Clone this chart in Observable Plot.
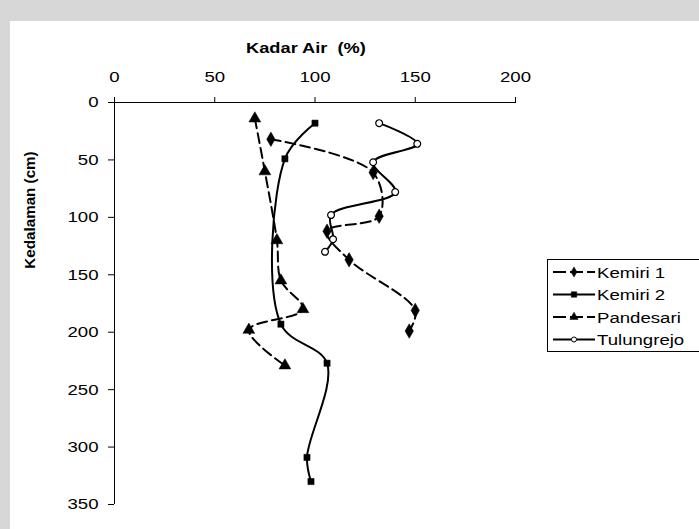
<!DOCTYPE html>
<html>
<head>
<meta charset="utf-8">
<script src="https://cdn.jsdelivr.net/npm/d3@7"></script>
<script src="https://cdn.jsdelivr.net/npm/@observablehq/plot@0.6"></script>
<style>
  html, body { margin: 0; padding: 0; background: #d7d7d7; width: 699px; height: 529px; overflow: hidden; }
  #panel { position: absolute; left: 10px; top: 21px; right: 0; bottom: 0; background: #ffffff; }
  #chart { position: absolute; left: 0; top: 0; }
  #legend { position: absolute; left: 0; top: 0; }
  text { font-family: "Liberation Sans", Arial, sans-serif; }
</style>
</head>
<body>
<div id="panel"></div>
<div id="chart"></div>
<svg id="legend" width="699" height="529"></svg>
<script>
// ---- data ----
const seriesNames = ["Kemiri 1", "Kemiri 2", "Pandesari", "Tulungrejo"];
const kemiri1Kadar = [78, 129, 132, 106, 117, 150, 147];
const kemiri1Depth = [32, 61, 99, 112, 137, 181, 199];
const kemiri2Kadar = [100, 85, 83, 106, 96, 98];
const kemiri2Depth = [18, 49, 193, 227, 309, 330];
const pandesariKadar = [70, 75, 81, 83, 94, 67, 85];
const pandesariDepth = [14, 60, 120, 155, 180, 198, 229];
const tulungrejoKadar = [132, 151, 129, 140, 108, 109, 105];
const tulungrejoDepth = [18, 36, 52, 78, 98, 119, 130];
const xTicks = [0, 50, 100, 150, 200];
const yTicks = [0, 50, 100, 150, 200, 250, 300, 350];
const xTitle = "Kadar Air  (%)";
const yTitle = "Kedalaman (cm)";

const styles = {
  "Kemiri 1":   {dash: "10,5", symbol: "diamond", r: 4.4, fill: "black"},
  "Kemiri 2":   {dash: null,   symbol: "square",  r: 3.5, fill: "black"},
  "Pandesari":  {dash: "10,5", symbol: "triangle", r: 4.4, fill: "black"},
  "Tulungrejo": {dash: null,   symbol: "circle",  r: 3.4, fill: "white"}
};
const STRETCH = 1.2;

const build = (name, xs, ys) => xs.map((v, i) => ({series: name, kadar: v, depth: ys[i]}));
const data = {
  "Kemiri 1": build("Kemiri 1", kemiri1Kadar, kemiri1Depth),
  "Kemiri 2": build("Kemiri 2", kemiri2Kadar, kemiri2Depth),
  "Pandesari": build("Pandesari", pandesariKadar, pandesariDepth),
  "Tulungrejo": build("Tulungrejo", tulungrejoKadar, tulungrejoDepth)
};

const marks = [
  Plot.ruleX([0], {stroke: "black", strokeWidth: 1}),
  Plot.ruleY([0], {stroke: "black", strokeWidth: 1})
];
for (const name of seriesNames) {
  const s = styles[name];
  marks.push(Plot.line(data[name], {x: "kadar", y: "depth", curve: "catmull-rom", stroke: "black", strokeWidth: 2, strokeDasharray: s.dash}));
}
for (const name of seriesNames) {
  const s = styles[name];
  marks.push(Plot.dot(data[name], {x: "kadar", y: "depth", symbol: () => s.symbol, r: s.r, fill: s.fill, stroke: "black", strokeWidth: s.fill === "white" ? 1.2 : 0.5}));
}

const chart = Plot.plot({
  width: 699,
  height: 529,
  marginLeft: 114,
  marginRight: 184,
  marginTop: 102,
  marginBottom: 25,
  style: {background: "transparent", fontFamily: "Liberation Sans, Arial, sans-serif", color: "black"},
  x: {domain: [0, 200], axis: "top", ticks: xTicks, tickSize: 6, tickPadding: 15, label: null},
  y: {domain: [0, 350], reverse: true, ticks: yTicks, tickSize: 6, tickPadding: 10, label: null},
  marks
});
document.getElementById("chart").appendChild(chart);

const svg = d3.select(chart);
// widen text like the (horizontally stretched) reference, keeping anchors
function stretch(sel) {
  sel.each(function () {
    const len = this.getComputedTextLength();
    if (len > 0) {
      this.setAttribute("textLength", (len * STRETCH).toFixed(2));
      this.setAttribute("lengthAdjust", "spacingAndGlyphs");
    }
  });
}
svg.selectAll('g[aria-label$="tick label"]').attr("font-size", 15.5).style("font-size", "15.5px");
stretch(svg.selectAll('g[aria-label$="tick label"] text'));

// axis titles
const xt = svg.append("text").attr("x", 306).attr("y", 53).attr("text-anchor", "middle")
  .attr("font-weight", "bold").attr("font-size", 15.2).attr("fill", "black").text(xTitle);
stretch(xt);
svg.append("text").attr("transform", "translate(35,210) rotate(-90)").attr("text-anchor", "middle")
  .attr("font-weight", "bold").attr("font-size", 15.2).attr("fill", "black").text(yTitle);

// legend
const lg = d3.select("#legend");
lg.append("rect").attr("x", 547.5).attr("y", 259.5).attr("width", 160).attr("height", 92)
  .attr("fill", "white").attr("stroke", "black").attr("stroke-width", 1);
seriesNames.forEach((name, i) => {
  const s = styles[name];
  const y = 272 + i * 22.5;
  lg.append("line").attr("x1", 553).attr("x2", 595).attr("y1", y).attr("y2", y)
    .attr("stroke", "black").attr("stroke-width", 2).attr("stroke-dasharray", s.dash ? "13,4" : null);
  const sym = {diamond: d3.symbolDiamond, square: d3.symbolSquare, triangle: d3.symbolTriangle, circle: d3.symbolCircle}[s.symbol];
  const area = s.symbol === "circle" ? 20 : 30;
  lg.append("path").attr("d", d3.symbol(sym, area)()).attr("transform", `translate(574,${y})`)
    .attr("fill", s.fill).attr("stroke", "black").attr("stroke-width", s.fill === "white" ? 1 : 0.5);
  const t = lg.append("text").attr("x", 597).attr("y", y).attr("dy", "0.36em").attr("font-size", 15.5)
    .attr("fill", "black").text(name);
  stretch(t);
});
</script>
</body>
</html>
